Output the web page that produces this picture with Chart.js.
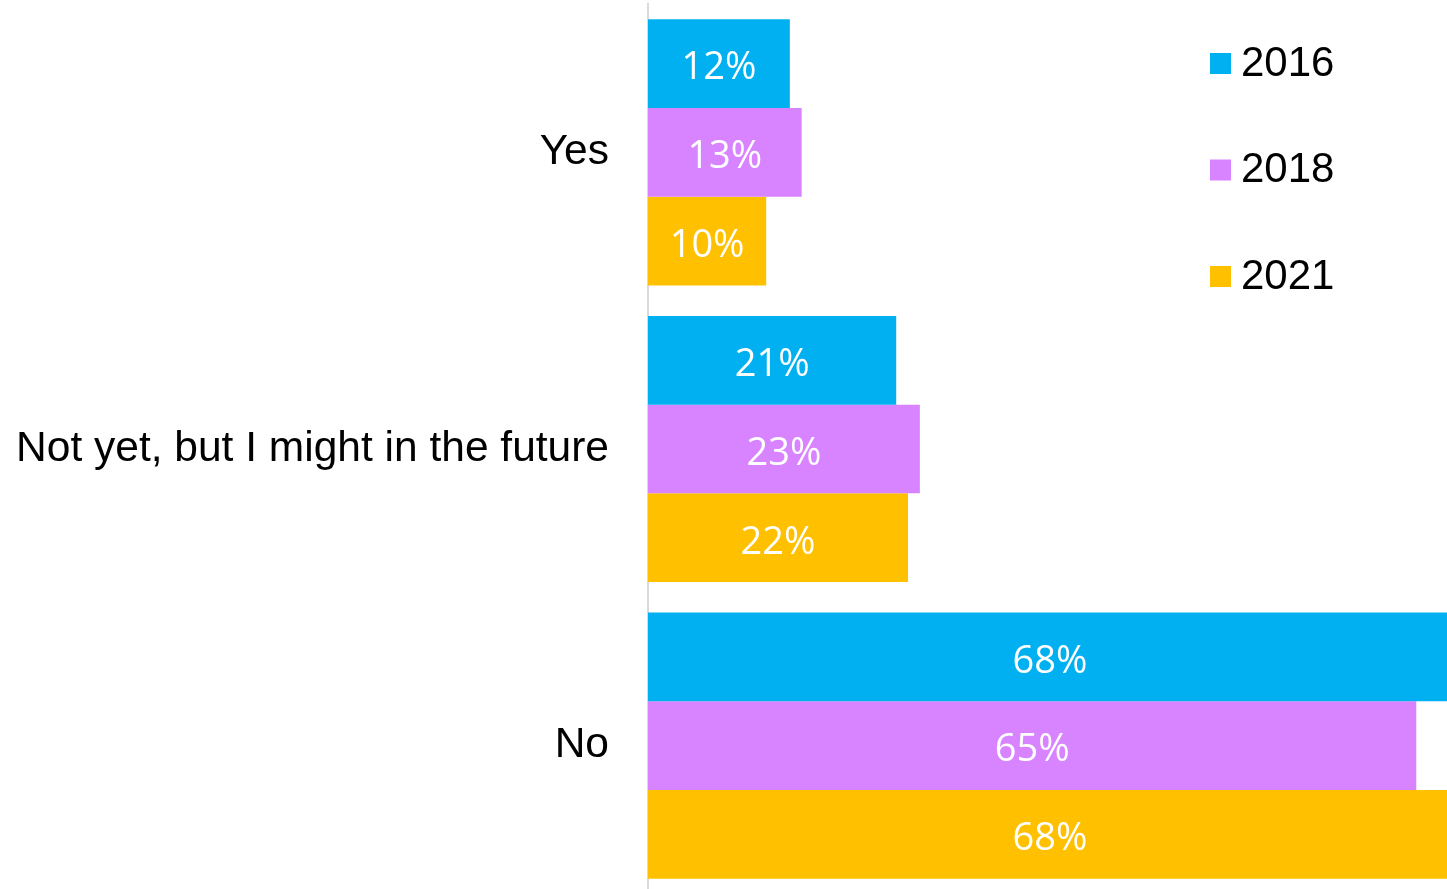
<!DOCTYPE html>
<html lang="en">
<head>
  <meta charset="UTF-8">
  <title>Survey answers by year</title>
  <script src="https://cdn.jsdelivr.net/npm/chart.js"></script>
  <style>
    html, body {
      margin: 0;
      padding: 0;
      background: #ffffff;
      overflow: hidden;
    }
    #wrap {
      position: relative;
      width: 1447px;
      height: 894px;
    }
  </style>
</head>
<body>
  <div id="wrap">
    <canvas id="surveyChart"></canvas>
  </div>

  <script>
    // answers and yearly shares (%)
    var categories = ['Yes', 'Not yet, but I might in the future', 'No'];
    var years = ['2016', '2018', '2021'];
    var values2016 = [12, 21, 68];
    var values2018 = [13, 23, 65];
    var values2021 = [10, 22, 68];
    var yearColors = ['#00B0F0', '#D883FF', '#FFC000'];

    var seriesValues = [values2016, values2018, values2021];
    var datasets = years.map(function (year, i) {
      return {
        label: year,
        data: seriesValues[i],
        backgroundColor: yearColors[i],
        borderWidth: 0,
        barPercentage: 1.0,
        categoryPercentage: 0.897
      };
    });

    // white percentage text in the middle of each bar
    var barValueLabels = {
      id: 'barValueLabels',
      afterDatasetsDraw: function (chart) {
        var ctx = chart.ctx;
        ctx.save();
        ctx.fillStyle = '#ffffff';
        ctx.font = '38px "Open Sans", sans-serif';
        ctx.textAlign = 'center';
        ctx.textBaseline = 'middle';
        chart.data.datasets.forEach(function (ds, di) {
          chart.getDatasetMeta(di).data.forEach(function (bar, i) {
            var cx = (bar.base + bar.x) / 2;
            ctx.fillText(ds.data[i] + '%', cx, bar.y + 5);
          });
        });
        ctx.restore();
      }
    };

    // vertical legend sitting inside the plot on the right
    var sideLegend = {
      id: 'sideLegend',
      afterDraw: function (chart) {
        var ctx = chart.ctx;
        var x = 1210, y = 63, step = 106.5, box = 21;
        ctx.save();
        ctx.font = '42px "Liberation Sans", Arial, sans-serif';
        ctx.textBaseline = 'middle';
        ctx.textAlign = 'left';
        chart.data.datasets.forEach(function (ds, i) {
          var cy = y + i * step;
          ctx.fillStyle = ds.backgroundColor;
          ctx.fillRect(x, cy - 10, box, box);
          ctx.fillStyle = '#000000';
          ctx.fillText(ds.label, x + 31, cy + 1);
        });
        ctx.restore();
      }
    };

    var ctx = document.getElementById('surveyChart').getContext('2d');
    var surveyChart = new Chart(ctx, {
      type: 'bar',
      data: {
        labels: categories,
        datasets: datasets
      },
      plugins: [barValueLabels, sideLegend],
      options: {
        indexAxis: 'y',
        responsive: true,
        maintainAspectRatio: false,
        animation: false,
        layout: {
          padding: { top: 4, right: 0, bottom: 0, left: 0 }
        },
        scales: {
          x: {
            display: false,
            min: 0,
            max: 67.6
          },
          y: {
            grid: { display: false, drawTicks: false },
            border: { display: true, color: '#D9D9D9', width: 2 },
            ticks: {
              color: '#000000',
              padding: 39,
              font: { family: '"Liberation Sans", Arial, sans-serif', size: 42.5 }
            },
            afterFit: function (scale) {
              // fixed label column, no extra room above/below for the labels
              scale.width = 648;
              scale.paddingTop = 0;
              scale.paddingBottom = 0;
            }
          }
        },
        plugins: {
          legend: { display: false },
          tooltip: { enabled: false }
        }
      }
    });
  </script>
</body>
</html>
